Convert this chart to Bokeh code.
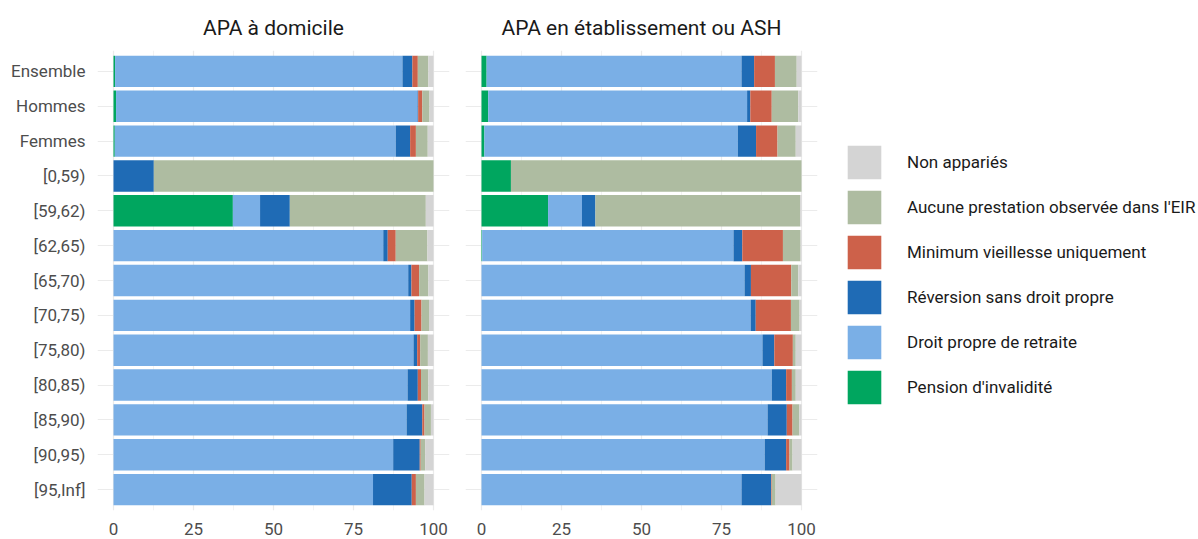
from bokeh.plotting import figure
from bokeh.layouts import row
from bokeh.models import FactorRange, Legend, LegendItem, ColumnDataSource, FixedTicker
from bokeh.embed import file_html
from bokeh.resources import INLINE

categories = ["Ensemble", "Hommes", "Femmes", "[0,59)", "[59,62)", "[62,65)", "[65,70)",
              "[70,75)", "[75,80)", "[80,85)", "[85,90)", "[90,95)", "[95,Inf]"]

series = ["Pension d'invalidité", "Droit propre de retraite", "Réversion sans droit propre",
          "Minimum vieillesse uniquement", "Aucune prestation observée dans l'EIR", "Non appariés"]
colors = ["#00a65f", "#7aafe6", "#1f6bb5", "#cd614a", "#aebca1", "#d4d4d4"]

# APA à domicile
dom_invalidite = [0.5, 0.8, 0.4, 0.0, 37.3, 0.0, 0.0, 0.0, 0.0, 0.0, 0.0, 0.0, 0.0]
dom_droit      = [89.8, 94.2, 87.8, 0.0, 8.5, 84.3, 92.1, 92.7, 93.75, 91.9, 91.6, 87.4, 81.1]
dom_reversion  = [3.1, 0.2, 4.5, 12.6, 9.3, 1.4, 1.0, 1.4, 1.15, 3.2, 4.9, 8.3, 12.1]
dom_minimum    = [1.7, 1.3, 1.8, 0.0, 0.0, 2.5, 2.4, 2.15, 0.95, 1.0, 0.7, 0.3, 1.3]
dom_aucune     = [3.3, 2.25, 3.7, 87.4, 42.5, 9.9, 2.9, 2.35, 2.4, 2.3, 2.0, 1.4, 2.7]
dom_nonapp     = [1.6, 1.25, 1.8, 0.0, 2.4, 1.9, 1.6, 1.4, 1.8, 1.6, 0.8, 2.6, 2.8]

# APA en établissement ou ASH
eta_invalidite = [1.6, 2.1, 0.9, 9.2, 20.8, 0.2, 0.0, 0.0, 0.0, 0.0, 0.0, 0.0, 0.0]
eta_droit      = [79.65, 80.9, 79.2, 0.0, 10.6, 78.55, 82.2, 84.1, 87.8, 90.7, 89.4, 88.5, 81.25]
eta_reversion  = [3.95, 1.0, 5.7, 0.0, 4.2, 2.75, 2.0, 1.6, 3.7, 4.5, 6.0, 6.7, 9.25]
eta_minimum    = [6.5, 6.7, 6.7, 0.0, 0.0, 12.7, 12.6, 11.0, 5.8, 1.8, 1.8, 1.05, 0.2]
eta_aucune     = [6.8, 8.3, 5.7, 90.8, 64.0, 5.5, 2.2, 2.7, 0.9, 1.2, 2.1, 0.95, 1.2]
eta_nonapp     = [1.5, 1.0, 1.8, 0.0, 0.4, 0.3, 1.0, 0.6, 1.8, 1.8, 0.7, 2.8, 8.1]

titles = ["APA à domicile", "APA en établissement ou ASH"]
x_ticks = [0, 25, 50, 75, 100]

FONT = "Roboto"
y_range = FactorRange(factors=list(reversed(categories)), range_padding=0.1,
                      range_padding_units="absolute")


def make_panel(title, values, show_y, min_left, min_right):
    data = {"cat": categories}
    for s, v in zip(series, values):
        data[s] = v
    src = ColumnDataSource(data)
    p = figure(y_range=y_range, x_range=(-5, 105), frame_width=352, frame_height=460,
               output_backend="svg", toolbar_location=None, title=title,
               min_border_left=min_left, min_border_right=min_right, min_border_top=50,
               min_border_bottom=26)
    rs = p.hbar_stack(series, y="cat", height=0.9, color=colors, source=src, line_color=None)
    p.outline_line_color = None
    p.background_fill_color = "white"
    p.title.text_font = FONT
    p.title.text_font_size = "21px"
    p.title.text_font_style = "normal"
    p.title.align = "center"
    p.title.text_color = "#1a1a1a"
    p.title.standoff = 21
    p.xaxis.ticker = FixedTicker(ticks=x_ticks, minor_ticks=[12.5, 37.5, 62.5, 87.5])
    p.xgrid.grid_line_color = "#ebebeb"
    p.xgrid.minor_grid_line_color = "#f3f3f3"
    p.xgrid.grid_line_width = 1.2
    p.ygrid.grid_line_color = "#ebebeb"
    p.ygrid.grid_line_width = 1.2
    for ax in (p.xaxis, p.yaxis):
        ax.axis_line_color = None
        ax.major_tick_line_color = None
        ax.minor_tick_line_color = None
        ax.major_label_text_font = FONT
        ax.major_label_text_font_size = "17px"
        ax.major_label_text_color = "#4d4d4d"
    p.xaxis.major_label_standoff = 6
    p.yaxis.major_label_standoff = 6
    p.yaxis.visible = show_y
    return p, rs


p1, _ = make_panel(titles[0], [dom_invalidite, dom_droit, dom_reversion, dom_minimum,
                               dom_aucune, dom_nonapp], True, 97, 8)
p2, rs2 = make_panel(titles[1], [eta_invalidite, eta_droit, eta_reversion, eta_minimum,
                                 eta_aucune, eta_nonapp], False, 8, 379)

items = [LegendItem(label=s, renderers=[r]) for s, r in zip(series, rs2)]
legend = Legend(items=list(reversed(items)), location=(26, 102),
                glyph_width=42, glyph_height=42, spacing=3, label_standoff=22,
                label_text_font=FONT, label_text_font_size="17px", label_text_color="#1a1a1a",
                border_line_color=None, background_fill_alpha=0, margin=0, padding=0)
p2.add_layout(legend, "right")

layout = row(p1, p2)
open("out.html", "w").write(file_html(layout, INLINE))
